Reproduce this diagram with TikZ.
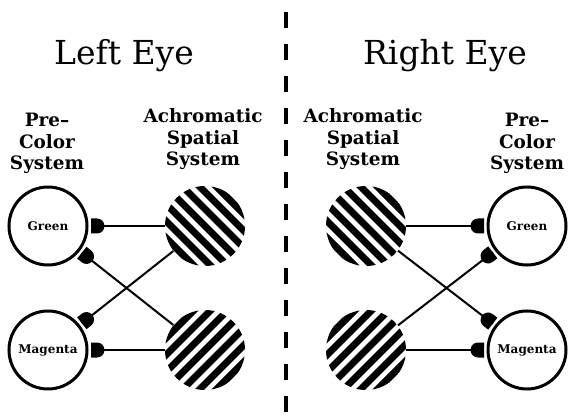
\documentclass[tikz,border=0pt]{standalone}
\usepackage{fontspec}
\setmainfont{DejaVu Serif}
\usepackage{tikz}
\usetikzlibrary{decorations.markings}

\begin{document}
\begin{tikzpicture}[x=0.5pt, y=-0.5pt,
    title/.style={font=\fontsize{16.5}{19}\selectfont, inner sep=0pt},
    syslabel/.style={font=\bfseries\fontsize{9.2}{10.75}\selectfont, align=center, inner sep=0pt},
    colorsys/.style={circle, draw, line width=1.5pt, minimum size=39pt, inner sep=0pt, outer sep=2pt,
        font=\bfseries\fontsize{6}{7}\selectfont},
    hatched/.style={circle, minimum size=40pt, inner sep=0pt,
        path picture={
            \foreach \k in {-4,...,4}
                \draw[line width=3.5pt] ([shift={({\k*8.49-50},{-1*(#1)*\k*8.49-50*(#1)})}]path picture bounding box.center) -- ++({100},{100*(#1)});
        }},
    syn/.style={line width=1pt, postaction={decorate},
        decoration={markings, mark=at position 1 with {
            \fill (0pt,3.75pt) -- (-3pt,3.75pt) arc[start angle=90, end angle=270, radius=3.75pt] -- (0pt,-3.75pt) -- cycle;}}},
    divider/.style={line width=2pt, dash pattern=on 8pt off 8pt}]
    \useasboundingbox (0,0) rectangle (572,416);

    % Divider
    \coordinate (divtop) at (286,12);
    \coordinate (divbot) at (286,416);
    \draw[divider] (divtop) -- (divbot);

    % Titles
    \node[title, anchor=base] (lefteye) at (124,65) {Left Eye};
    \node[title, anchor=base] (righteye) at (445,65) {Right Eye};

    % Column labels (base = last line)
    \node[syslabel, anchor=base] (lpre) at (47,170) {Pre–\\Color\\System};
    \node[syslabel, anchor=base] (lach) at (203,166) {Achromatic\\Spatial\\System};
    \node[syslabel, anchor=base] (rach) at (363,166) {Achromatic\\Spatial\\System};
    \node[syslabel, anchor=base] (rpre) at (527,170) {Pre–\\Color\\System};

    % Left eye
    \node[colorsys] (LG) at (48,226) {Green};
    \node[colorsys] (LM) at (48,350) {Magenta};
    \node[hatched=1] (LHT) at (205,226) {};
    \node[hatched=-1] (LHB) at (205,350) {};

    % Right eye
    \node[colorsys] (RG) at (527,226) {Green};
    \node[colorsys] (RM) at (527,350) {Magenta};
    \node[hatched=1] (RHT) at (366,226) {};
    \node[hatched=-1] (RHB) at (366,350) {};

    % Connections
    \draw[syn] (LHT) -- (LG);
    \draw[syn] (LHB) -- (LM);
    \draw[syn] (LHT) -- (LM);
    \draw[syn] (LHB) -- (LG);
    \draw[syn] (RHT) -- (RG);
    \draw[syn] (RHB) -- (RM);
    \draw[syn] (RHT) -- (RM);
    \draw[syn] (RHB) -- (RG);
\end{tikzpicture}
\end{document}
